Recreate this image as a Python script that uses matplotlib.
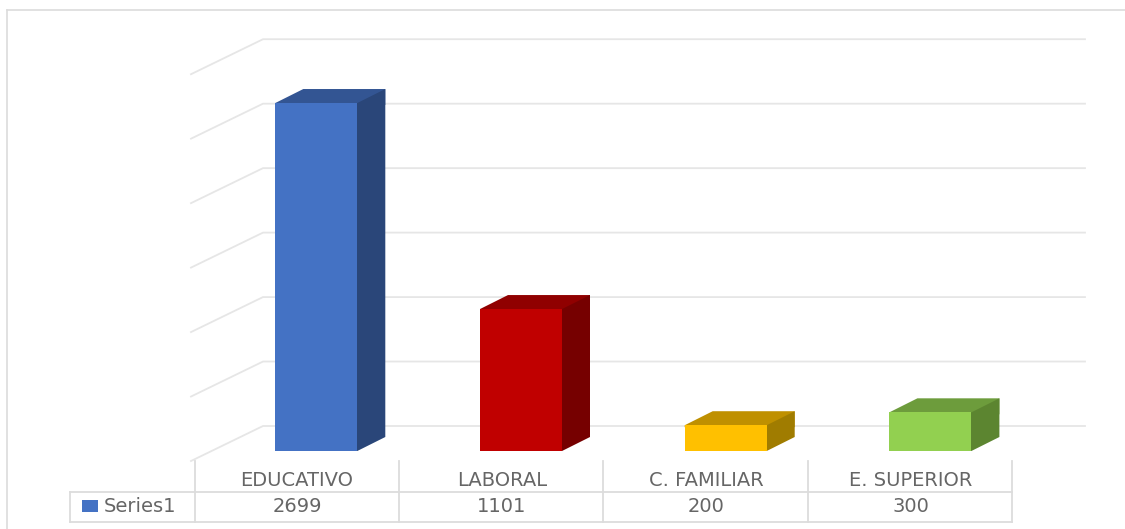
import matplotlib
matplotlib.use('Agg')
import matplotlib.pyplot as plt
from matplotlib.patches import Polygon, Rectangle

categories = ['EDUCATIVO', 'LABORAL', 'C. FAMILIAR', 'E. SUPERIOR']
values = [2699, 1101, 200, 300]
grid_values = [0, 500, 1000, 1500, 2000, 2500, 3000]
series_name = 'Series1'

front_colors = ['#4472C4', '#C00000', '#FFC000', '#92D050']
top_colors = ['#335593', '#900000', '#BF9000', '#6D9C3C']
side_colors = ['#2A4679', '#760000', '#A07C00', '#5C8530']

GRID = '#E6E6E6'
TABLE = '#DCDCDC'
TEXT = '#666666'

# one category is 204.7 px wide, one value unit is 0.129 px high
PX_CAT = 204.7
PX_VAL = 0.12893
X0 = 297
Y0 = 451
W, H = 1125, 529

BAR_W = 82 / PX_CAT
BAR_SHIFT = 19.3 / PX_CAT
DX = 28 / PX_CAT
DY = 14 / PX_VAL
OVERLAP = 2 / PX_CAT  # side and top run under the front, no white seam

plt.rcParams['font.family'] = ['DejaVu Sans']

fig = plt.figure(figsize=(W / 100, H / 100), dpi=100)
ax = fig.add_axes([0, 0, 1, 1])
ax.set_xlim(-X0 / PX_CAT, (W - X0) / PX_CAT)
ax.set_ylim((Y0 - H) / PX_VAL, Y0 / PX_VAL)
ax.axis('off')


def xp(px):
    return (px - X0) / PX_CAT


def yp(px):
    return (Y0 - px) / PX_VAL


# outer frame of the pasted chart
ax.plot([xp(7), xp(7)], [yp(529), yp(10)], color=TABLE, lw=1.2)
ax.plot([xp(7), xp(1125)], [yp(10), yp(10)], color=TABLE, lw=1.2)

# gridlines on the back wall and the left wall
back_off = 25 / PX_VAL
front_off = -10 / PX_VAL
for v in grid_values:
    ax.plot([xp(191), xp(263), xp(1085)],
            [v + front_off, v + back_off, v + back_off],
            color=GRID, lw=1.3, zorder=1, solid_joinstyle='miter')

# 3d bars
for i, v in enumerate(values):
    x1 = i + BAR_SHIFT - BAR_W / 2
    x2 = x1 + BAR_W
    ax.add_patch(Polygon([(x1 + DX, v + DY), (x1, v), (x1, v - 2 / PX_VAL), (x2 + DX, v - 2 / PX_VAL), (x2 + DX, v + DY)],
                         closed=True, fc=top_colors[i], ec='none', zorder=2))
    ax.add_patch(Polygon([(x2 - OVERLAP, 0), (x2, 0), (x2 + DX, DY), (x2 + DX, v + DY), (x2, v), (x2 - OVERLAP, v)],
                         closed=True, fc=side_colors[i], ec='none', zorder=3))
    ax.add_patch(Rectangle((x1, 0), BAR_W, v, fc=front_colors[i], ec='none', zorder=4))

# data table under the chart
cell_edges = [195 + 204.2 * i for i in range(5)]
ax.plot([xp(70), xp(1012)], [yp(492), yp(492)], color=TABLE, lw=1.3)
ax.plot([xp(70), xp(1012)], [yp(522), yp(522)], color=TABLE, lw=1.3)
ax.plot([xp(70), xp(70)], [yp(492), yp(522)], color=TABLE, lw=1.3)
for e in cell_edges:
    ax.plot([xp(e), xp(e)], [yp(461), yp(522)], color=TABLE, lw=1.3)

for i, (cat, v) in enumerate(zip(categories, values)):
    ax.text(i, yp(480), cat, ha='center', va='center', fontsize=14, color=TEXT)
    ax.text(i, yp(506), str(v), ha='center', va='center', fontsize=14, color=TEXT)

ax.add_patch(Rectangle((xp(81.5), yp(512)), 16 / PX_CAT, 12 / PX_VAL, fc=front_colors[0], ec='none'))
ax.text(xp(104), yp(506), series_name, ha='left', va='center', fontsize=14, color=TEXT)

fig.savefig('out.png', dpi=100)
